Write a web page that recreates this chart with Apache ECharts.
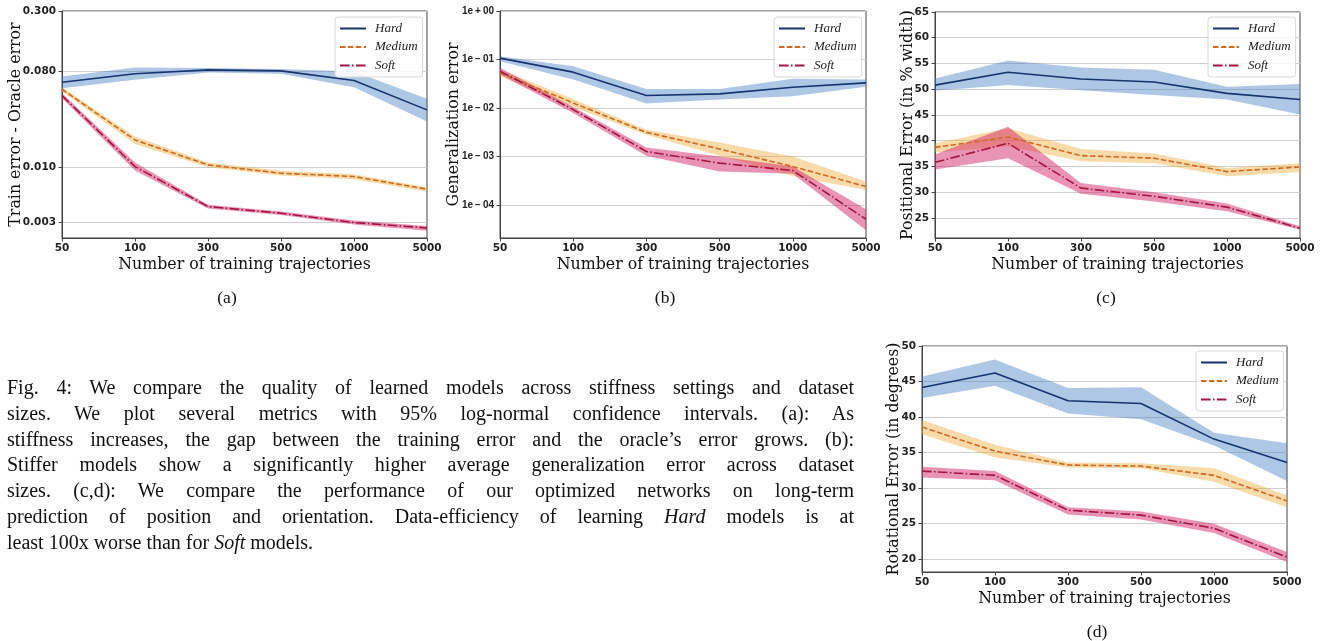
<!DOCTYPE html>
<html>
<head>
<meta charset="utf-8">
<script src="https://cdn.jsdelivr.net/npm/echarts@6/dist/echarts.min.js"></script>
<style>
  html, body { margin: 0; padding: 0; background: #fff; }
  #wrap { position: relative; width: 1322px; height: 641px; overflow: hidden; }
  #chart { position: absolute; left: 0; top: 0; width: 1322px; height: 641px; }
  #caption { position: absolute; left: 7px; top: 375px; width: 847px;
    font-family: "Liberation Serif", "Times New Roman", serif; font-size: 20px; line-height: 25.8px; color: #111; }
  #caption div { text-align: justify; text-align-last: justify; white-space: nowrap; }
  #caption div.last { text-align-last: left; }
</style>
</head>
<body>
<div id="wrap">
  <div id="chart"></div>
  <div id="caption">
    <div>Fig. 4: We compare the quality of learned models across stiffness settings and dataset</div>
    <div>sizes. We plot several metrics with 95% log-normal confidence intervals. (a): As</div>
    <div>stiffness increases, the gap between the training error and the oracle’s error grows. (b):</div>
    <div>Stiffer models show a significantly higher average generalization error across dataset</div>
    <div>sizes. (c,d): We compare the performance of our optimized networks on long-term</div>
    <div>prediction of position and orientation. Data-efficiency of learning <i>Hard</i> models is at</div>
    <div class="last">least 100x worse than for <i>Soft</i> models.</div>
  </div>
</div>
<script>
// ---------- data ----------
const categories = ['50', '100', '300', '500', '1000', '5000'];
const seriesNames = ['Hard', 'Medium', 'Soft'];

// (a) Train error - Oracle error
const aHard   = [0.0635, 0.0762, 0.0830, 0.0812, 0.0658, 0.0347];
const aHardLo = [0.0557, 0.0668, 0.0783, 0.0762, 0.0569, 0.0269];
const aHardHi = [0.0718, 0.0873, 0.0863, 0.0847, 0.0800, 0.0442];
const aMed    = [0.0544, 0.0180, 0.01045, 0.00871, 0.0081, 0.00615];
const aMedLo  = [0.0518, 0.0165, 0.0099, 0.00827, 0.00764, 0.00583];
const aMedHi  = [0.0569, 0.0194, 0.0110, 0.00917, 0.00852, 0.00642];
const aSoft   = [0.0474, 0.01007, 0.00421, 0.00364, 0.00297, 0.00264];
const aSoftLo = [0.0448, 0.00922, 0.00403, 0.00351, 0.00284, 0.00249];
const aSoftHi = [0.0500, 0.0110, 0.00437, 0.00378, 0.00310, 0.00276];
const aTicks  = [0.003, 0.01, 0.08, 0.3];
const aRange  = [0.00212, 0.3];

// (b) Generalization error
const bHard   = [0.1064, 0.0547, 0.0180, 0.0195, 0.0267, 0.0329];
const bHardLo = [0.0923, 0.0385, 0.0123, 0.0149, 0.0174, 0.0272];
const bHardHi = [0.117, 0.0727, 0.0247, 0.0247, 0.0398, 0.0385];
const bMed    = [0.0530, 0.01268, 0.00313, 0.00142, 0.000618, 0.000238];
const bMedLo  = [0.0452, 0.0105, 0.0028, 0.00103, 0.000396, 0.000203];
const bMedHi  = [0.0621, 0.01536, 0.00356, 0.00194, 0.000996, 0.000303];
const bSoft   = [0.0573, 0.00923, 0.00126, 0.000726, 0.000512, 0.0000504];
const bSoftLo = [0.0489, 0.00787, 0.00103, 0.000488, 0.000437, 0.000030];
const bSoftHi = [0.0671, 0.0105, 0.00153, 0.000996, 0.000618, 0.000081];
const bTicks  = [1e-4, 1e-3, 1e-2, 1e-1, 1];
const bRange  = [2.07e-5, 1];

// (c) Positional error
const cHard   = [50.8, 53.3, 52.0, 51.4, 49.2, 48.0];
const cHardLo = [49.7, 50.8, 49.8, 48.9, 48.0, 45.1];
const cHardHi = [52.1, 55.6, 54.2, 53.8, 50.5, 51.0];
const cMed    = [38.7, 40.7, 37.1, 36.6, 34.0, 34.9];
const cMedLo  = [37.7, 38.9, 36.0, 35.6, 33.1, 33.9];
const cMedHi  = [39.5, 42.4, 38.4, 37.5, 34.7, 35.6];
const cSoft   = [35.8, 39.5, 30.8, 29.2, 27.1, 23.0];
const cSoftLo = [34.4, 36.6, 29.7, 28.2, 26.3, 22.7];
const cSoftHi = [37.3, 42.7, 31.8, 30.0, 27.8, 23.4];
const cTicks  = [25, 30, 35, 40, 45, 50, 55, 60, 65];
const cRange  = [21.1, 65];

// (d) Rotational error
const dHard   = [44.15, 46.2, 42.3, 41.9, 36.9, 33.6];
const dHardLo = [42.7, 44.4, 40.5, 39.7, 36.0, 31.0];
const dHardHi = [45.7, 48.1, 44.1, 44.2, 37.8, 36.3];
const dMed    = [38.6, 35.2, 33.25, 33.1, 31.8, 28.2];
const dMedLo  = [37.6, 34.3, 32.9, 32.8, 30.9, 27.3];
const dMedHi  = [39.6, 36.1, 33.6, 33.5, 32.8, 29.0];
const dSoft   = [32.4, 31.8, 26.9, 26.2, 24.35, 20.3];
const dSoftLo = [31.5, 31.1, 26.3, 25.6, 23.7, 19.6];
const dSoftHi = [33.0, 32.4, 27.3, 26.7, 25.0, 21.0];
const dTicks  = [20, 25, 30, 35, 40, 45, 50];
const dRange  = [18.2, 50];

// ---------- styles ----------
const lineColors = { Hard: '#16336e', Medium: '#d06a22', Soft: '#a3143f' };
const bandColors = { Hard: 'rgba(62,122,192,0.42)', Medium: 'rgba(240,170,50,0.42)', Soft: 'rgba(212,40,108,0.5)' };
const dashes = { Hard: 'solid', Medium: [5.5, 2.4], Soft: [9.6, 2.4, 1.5, 2.4] };
const tickFont = { fontFamily: 'DejaVu Sans', fontWeight: 'bold', fontSize: 10.5, color: '#222' };
const expFont = { fontFamily: 'Liberation Sans', fontWeight: 'bold', fontSize: 10, color: '#222' };
const titleFont = { fontFamily: 'DejaVu Serif', fontSize: 15.8, color: '#111' };

const panels = [
  { grid: { left: 62, top: 11, width: 365, height: 227 }, type: 'log', range: aRange, ticks: aTicks, yFont: tickFont,
    fmt: v => v.toFixed(3), yName: 'Train error - Oracle error', yGap: 38,
    data: { Hard: [aHard, aHardLo, aHardHi], Medium: [aMed, aMedLo, aMedHi], Soft: [aSoft, aSoftLo, aSoftHi] },
    legend: { left: 335, top: 17 } },
  { grid: { left: 500, top: 11, width: 366, height: 227 }, type: 'log', range: bRange, ticks: bTicks, yFont: expFont,
    fmt: v => { const e = Math.round(Math.log10(v)); return '1e\u2009' + (e >= 0 ? '+' : '\u2212') + '\u2009' + String(Math.abs(e)).padStart(2, '0'); },
    yName: 'Generalization error', yGap: 38,
    data: { Hard: [bHard, bHardLo, bHardHi], Medium: [bMed, bMedLo, bMedHi], Soft: [bSoft, bSoftLo, bSoftHi] },
    legend: { left: 774, top: 17 } },
  { grid: { left: 935, top: 12, width: 365, height: 226 }, type: 'value', range: cRange, ticks: cTicks, yFont: tickFont,
    fmt: v => String(v), yName: 'Positional Error (in % width)', yGap: 19,
    data: { Hard: [cHard, cHardLo, cHardHi], Medium: [cMed, cMedLo, cMedHi], Soft: [cSoft, cSoftLo, cSoftHi] },
    legend: { left: 1208, top: 17 } },
  { grid: { left: 922, top: 346, width: 365, height: 226 }, type: 'value', range: dRange, ticks: dTicks, yFont: tickFont,
    fmt: v => String(v), yName: 'Rotational Error (in degrees)', yGap: 20,
    data: { Hard: [dHard, dHardLo, dHardHi], Medium: [dMed, dMedLo, dMedHi], Soft: [dSoft, dSoftLo, dSoftHi] },
    legend: { left: 1196, top: 351 } }
];

const grids = [], xAxes = [], yAxes = [], series = [], legends = [];
panels.forEach((p, gi) => {
  grids.push(Object.assign({ show: true, borderColor: '#444', borderWidth: 1, backgroundColor: 'transparent' }, p.grid));
  xAxes.push({
    type: 'category', gridIndex: gi, data: categories, boundaryGap: false,
    name: 'Number of training trajectories', nameLocation: 'middle', nameGap: 19, nameMoveOverlap: false,
    nameTextStyle: titleFont,
    axisLine: { show: true, lineStyle: { color: '#444', width: 1 } },
    axisTick: { show: true, inside: false, length: 3.5, alignWithLabel: true, lineStyle: { color: '#444' } },
    axisLabel: Object.assign({ margin: 5, interval: 0 }, tickFont),
    splitLine: { show: false }
  });
  yAxes.push({
    type: p.type, gridIndex: gi, min: p.range[0], max: p.range[1], logBase: 10,
    name: p.yName, nameLocation: 'middle', nameGap: p.yGap, nameRotate: 90, nameMoveOverlap: false,
    nameTextStyle: titleFont,
    axisLine: { show: true, lineStyle: { color: '#444', width: 1 } },
    axisTick: { show: true, length: 3.5, lineStyle: { color: '#444' }, customValues: p.ticks },
    axisLabel: Object.assign({ margin: 6, formatter: p.fmt, customValues: p.ticks, showMinLabel: true, showMaxLabel: true }, p.yFont),
    splitLine: { show: true, lineStyle: { color: '#cfcfcf', width: 1 } },
    minorTick: { show: false }, minorSplitLine: { show: false }
  });
  seriesNames.forEach(nm => {
    const [mid, lo, hi] = p.data[nm];
    series.push({
      type: 'custom', name: nm + ' CI', xAxisIndex: gi, yAxisIndex: gi, silent: true, z: 1,
      data: lo.map((l, i) => [i, l, hi[i]]),
      encode: { x: 0, y: [1, 2] },
      renderItem: (params, api) => {
        if (params.dataIndex !== 0) return null;
        const pts = [];
        for (let i = 0; i < hi.length; i++) pts.push(api.coord([i, hi[i]]));
        for (let i = lo.length - 1; i >= 0; i--) pts.push(api.coord([i, lo[i]]));
        return { type: 'polygon', shape: { points: pts }, style: { fill: bandColors[nm] } };
      }
    });
  });
  seriesNames.forEach(nm => {
    const [mid] = p.data[nm];
    series.push({
      type: 'line', name: nm, xAxisIndex: gi, yAxisIndex: gi, data: mid, z: 3,
      symbol: 'none', showSymbol: false, smooth: false, silent: true,
      lineStyle: { color: lineColors[nm], width: 1.6, type: dashes[nm] },
      itemStyle: { color: lineColors[nm] }
    });
  });
  legends.push({
    data: seriesNames, orient: 'vertical', left: p.legend.left, top: p.legend.top,
    itemWidth: 26, itemHeight: 12, itemGap: 5.5, padding: [5, 5, 5, 4],
    selectedMode: false,
    itemStyle: { opacity: 0, color: 'transparent', borderWidth: 0 },
    backgroundColor: 'rgba(255,255,255,0.85)', borderColor: '#d8d8d8', borderWidth: 1, borderRadius: 3,
    textStyle: { fontFamily: 'Liberation Serif', fontStyle: 'italic', fontSize: 13, color: '#222', padding: [0, 0, 0, 4] }
  });
});

const labelFont = '17.5px "Liberation Serif"';
const chart = echarts.init(document.getElementById('chart'), null, { renderer: 'canvas' });
chart.setOption({
  animation: false,
  backgroundColor: '#fff',
  grid: grids, xAxis: xAxes, yAxis: yAxes, series: series, legend: legends,
  graphic: [
    { type: 'text', x: 227, y: 298, style: { text: '(a)', font: labelFont, fill: '#111', textAlign: 'center', textVerticalAlign: 'middle' } },
    { type: 'text', x: 665, y: 298, style: { text: '(b)', font: labelFont, fill: '#111', textAlign: 'center', textVerticalAlign: 'middle' } },
    { type: 'text', x: 1106, y: 298, style: { text: '(c)', font: labelFont, fill: '#111', textAlign: 'center', textVerticalAlign: 'middle' } },
    { type: 'text', x: 1097, y: 632, style: { text: '(d)', font: labelFont, fill: '#111', textAlign: 'center', textVerticalAlign: 'middle' } }
  ]
});
</script>
</body>
</html>
